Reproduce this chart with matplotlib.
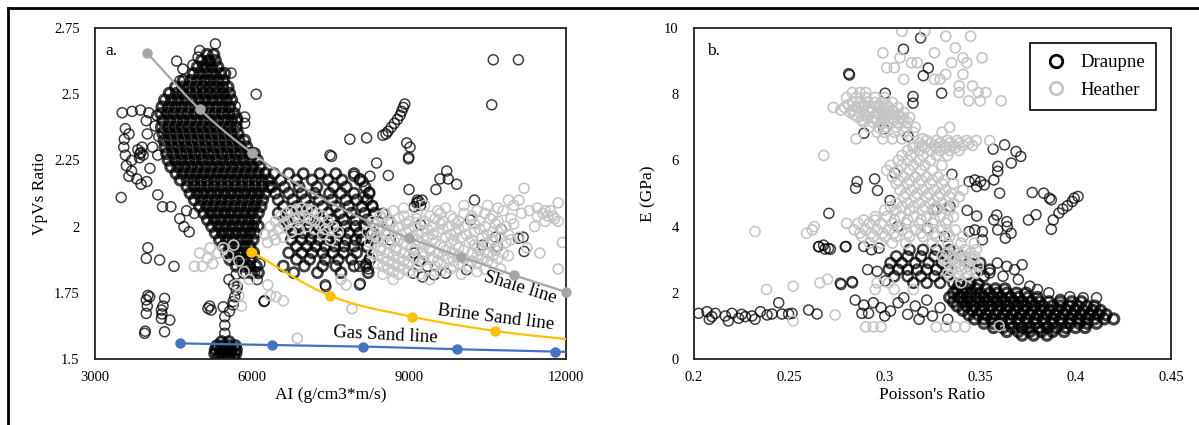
import numpy as np
import matplotlib
matplotlib.use("Agg")
import matplotlib.pyplot as plt
from matplotlib.lines import Line2D

plt.rcParams["font.family"] = ["Liberation Serif", "DejaVu Serif"]

# ---------------- panel a: AI vs VpVs ----------------
# dense Draupne cloud, rows of (VpVs, [AI ...])
draupne_a_core = [
    (2.650, [5140, 5270]),
    (2.627, [5040, 5185, 5300]),
    (2.603, [4960, 5095, 5225, 5345]),
    (2.578, [4880, 5005, 5135, 5255, 5390, 5480]),
    (2.552, [4690, 4835, 4955, 5095, 5210, 5345, 5460]),
    (2.527, [4540, 4675, 4795, 4935, 5060, 5185, 5305, 5435, 5540]),
    (2.503, [4420, 4555, 4680, 4815, 4940, 5075, 5200, 5325, 5450, 5570]),
    (2.478, [4330, 4465, 4590, 4725, 4850, 4985, 5110, 5245, 5370, 5505, 5610]),
    (2.452, [4280, 4405, 4535, 4660, 4795, 4920, 5055, 5180, 5315, 5440, 5575]),
    (2.427, [4260, 4385, 4510, 4645, 4770, 4905, 5030, 5165, 5290, 5425, 5550, 5660]),
    (2.401, [4300, 4430, 4565, 4690, 4825, 4950, 5085, 5210, 5345, 5470, 5605, 5710]),
    (2.376, [4270, 4405, 4530, 4665, 4790, 4925, 5050, 5185, 5310, 5445, 5570, 5700]),
    (2.352, [4300, 4435, 4560, 4695, 4820, 4955, 5080, 5215, 5340, 5475, 5600, 5730]),
    (2.326, [4320, 4450, 4585, 4710, 4845, 4970, 5105, 5230, 5365, 5490, 5625, 5750, 5860]),
    (2.301, [4340, 4475, 4600, 4735, 4860, 4995, 5120, 5255, 5380, 5515, 5640, 5775, 5900]),
    (2.276, [4370, 4495, 4640, 4755, 4900, 5015, 5160, 5270, 5420, 5535, 5680, 5790, 5940, 6045]),
    (2.251, [4400, 4535, 4660, 4795, 4920, 5055, 5180, 5315, 5440, 5575, 5700, 5835, 5960, 6100]),
    (2.226, [4450, 4585, 4710, 4845, 4970, 5105, 5230, 5365, 5490, 5625, 5750, 5885, 6010, 6150]),
    (2.201, [4550, 4680, 4815, 4940, 5075, 5200, 5335, 5460, 5595, 5720, 5855, 5980, 6115, 6250]),
    (2.176, [4630, 4765, 4890, 5025, 5150, 5285, 5410, 5545, 5670, 5805, 5930, 6065, 6190, 6320]),
    (2.151, [4760, 4895, 5020, 5155, 5280, 5415, 5540, 5675, 5800, 5935, 6060, 6195, 6330]),
    (2.126, [4820, 4955, 5080, 5215, 5340, 5475, 5600, 5735, 5860, 5995, 6120, 6250]),
    (2.101, [4900, 5035, 5160, 5295, 5420, 5555, 5680, 5815, 5940, 6075, 6200]),
    (2.076, [5000, 5135, 5260, 5395, 5520, 5655, 5780, 5915, 6040, 6170]),
    (2.051, [5080, 5215, 5340, 5475, 5600, 5735, 5860, 5995, 6120]),
    (2.026, [5150, 5285, 5410, 5545, 5670, 5805, 5930, 6060]),
    (2.001, [5230, 5365, 5490, 5625, 5750, 5885, 6010, 6120]),
    (1.976, [5300, 5435, 5560, 5695, 5820, 5955, 6060]),
    (1.951, [5380, 5515, 5640, 5775, 5900, 6020]),
    (1.926, [5450, 5585, 5710, 5845, 5960]),
    (1.901, [5520, 5655, 5780, 5915, 6030]),
    (1.876, [5580, 5715, 5840, 5960]),
    (1.851, [5700, 5835, 5950, 6080]),
    (1.826, [5850, 5985, 6120]),
]

# second Draupne cloud around AI 6500-8300
draupne_a_mid = [
    (2.200, [6420, 6700, 6980, 7300, 7600, 7950]),
    (2.176, [6550, 6850, 7150, 7450, 7720, 8060]),
    (2.150, [6380, 6620, 6900, 7240, 7560, 7800, 8160]),
    (2.126, [6450, 6700, 6950, 7200, 7480, 7700, 7950, 8240]),
    (2.101, [6500, 6780, 7020, 7280, 7530, 7790, 8000, 8200]),
    (2.076, [6600, 6850, 7100, 7350, 7600, 7850, 8100, 8300]),
    (2.051, [6500, 6720, 6950, 7200, 7450, 7680, 7900, 8150, 8350]),
    (2.026, [6620, 6850, 7080, 7300, 7520, 7750, 7980, 8200]),
    (2.001, [6700, 6900, 7080, 7250, 7420, 7600, 7780, 7980, 8150]),
    (1.976, [6800, 6980, 7150, 7320, 7500, 7680, 7850, 8050, 8300]),
    (1.951, [6750, 6950, 7120, 7280, 7450, 7620, 7800, 7980, 8100]),
    (1.926, [6850, 7050, 7220, 7400, 7580, 7760, 7950, 8200]),
    (1.901, [6700, 6950, 7150, 7350, 7550, 7750, 8000]),
    (1.876, [6850, 7100, 7400, 7650, 7900, 8250]),
    (1.851, [6600, 7000, 7350, 7600, 7950, 8180]),
    (1.826, [6800, 7250, 7700, 8220]),
]

# bottom Draupne cluster near VpVs 1.5
draupne_a_low = [
    (1.565, [5420, 5560]),
    (1.550, [5330, 5450, 5570, 5680]),
    (1.535, [5300, 5400, 5500, 5600, 5700]),
    (1.520, [5290, 5390, 5490, 5590, 5690]),
    (1.505, [5350, 5450, 5550, 5650]),
]

# scattered Draupne points (AI, VpVs)
draupne_a_sparse = [
    (5300, 2.69), (5000, 2.665), (4970, 2.64), (5160, 2.625), (4560, 2.625),
    (4680, 2.595), (4870, 2.61), (4620, 2.55), (5600, 2.58), (5560, 2.45),
    (6080, 2.50), (5680, 2.454), (5860, 2.414), (5860, 2.39), (5720, 2.41),
    (3520, 2.43), (3710, 2.435), (3870, 2.44), (4030, 2.43), (3580, 2.37),
    (3560, 2.33), (3550, 2.30), (3580, 2.27), (3650, 2.35), (3700, 2.25),
    (3880, 2.28), (3820, 2.29), (3920, 2.27), (3850, 2.26), (3900, 2.30),
    (3860, 2.275), (3700, 2.21), (3800, 2.18), (3880, 2.16), (3990, 2.17),
    (4050, 2.22), (4100, 2.30), (4150, 2.38), (4180, 2.42), (3650, 2.19),
    (3600, 2.23), (4000, 2.35), (3980, 2.40), (4200, 2.27), (4220, 2.34),
    (3500, 2.11), (4200, 2.12), (4290, 2.075), (4450, 2.075), (4620, 2.03),
    (4700, 2.00), (4800, 1.98), (4900, 2.05), (4750, 2.06), (4010, 1.92),
    (3980, 1.88), (4235, 1.874), (4510, 1.85), (3980, 1.723), (4045, 1.735),
    (4330, 1.729), (3980, 1.672), (4270, 1.685), (4270, 1.653), (4430, 1.647),
    (3950, 1.597), (3960, 1.605), (4330, 1.603), (4000, 1.70), (4010, 1.74),
    (4280, 1.67), (4300, 1.70), (5160, 1.691), (5220, 1.685), (5190, 1.70),
    (5450, 1.697), (5640, 1.704), (5480, 1.66), (5480, 1.628), (5480, 1.597),
    (5670, 1.735), (5700, 1.76), (5560, 1.80), (5650, 1.78), (5700, 1.82),
    (5570, 1.68), (5640, 1.717), (5720, 1.773), (6240, 1.72), (6230, 1.717),
    (5950, 1.85), (6050, 1.83), (6150, 1.86), (6100, 1.80),
    (7870, 2.33), (8190, 2.335), (7490, 2.27), (7520, 2.265), (8956, 2.316),
    (9020, 2.30), (8990, 2.256), (8995, 2.262), (8500, 2.345), (8560, 2.35),
    (8600, 2.36), (8660, 2.375), (8720, 2.39), (8780, 2.405), (8830, 2.42),
    (8860, 2.435), (8890, 2.45), (8920, 2.463), (8380, 2.24), (8255, 2.19),
    (8605, 2.193), (8070, 2.18), (8120, 2.17), (9720, 2.21), (9590, 2.18),
    (9750, 2.18), (9910, 2.16), (9000, 2.14), (9190, 2.095), (9150, 2.09),
    (9220, 2.08), (9100, 2.075), (9160, 2.10), (9250, 2.10), (9515, 2.14),
    (10250, 2.10), (10610, 2.63), (11090, 2.63), (10580, 2.46), (10760, 1.99),
    (11090, 1.956), (11180, 1.96), (11200, 1.906), (10690, 1.925), (9220, 2.007),
    (10170, 2.025), (9080, 1.824), (9260, 1.81), (9480, 1.818), (9700, 1.824),
    (10100, 1.837), (8350, 1.956), (8640, 1.95), (8420, 1.99), (8055, 1.85),
    (8055, 1.78), (8070, 1.785), (7400, 1.78), (7410, 1.774), (8500, 2.05),
    (8300, 2.08), (8600, 2.02), (8100, 1.95), (8200, 1.92), (8250, 1.88),
    (8180, 1.86), (8220, 1.84), (9100, 1.90), (9200, 1.87), (9350, 1.85),
    (10400, 1.93), (10650, 1.96), (7950, 2.19), (8240, 2.13), (8130, 2.11),
]

# Heather points (AI, VpVs)
heather_a_arc = [
    (6250, 1.97), (6350, 2.00), (6450, 2.02), (6550, 2.04), (6650, 2.05),
    (6750, 2.06), (6850, 2.065), (6950, 2.07), (7050, 2.065), (7150, 2.06),
    (7250, 2.05), (7350, 2.04), (7450, 2.02), (7550, 2.00), (7650, 1.98),
    (6400, 1.97), (6500, 1.99), (6600, 2.01), (6700, 2.02), (6800, 2.03),
    (6900, 2.035), (7000, 2.04), (7100, 2.03), (7200, 2.02), (7300, 2.005),
    (7400, 1.99), (6300, 1.94), (6450, 1.95), (6600, 1.96), (6750, 1.98),
    (6900, 1.99), (7050, 2.00), (7200, 1.99), (7350, 1.97), (7500, 1.95),
    (4900, 1.85), (5050, 1.85), (5150, 1.88), (5250, 1.86), (5350, 1.90),
    (5450, 1.92), (5550, 1.89), (5000, 1.90), (5200, 1.92), (5650, 1.93),
    (5750, 1.87), (5850, 1.83), (5950, 1.80), (5700, 1.78), (5750, 1.74),
    (5800, 1.70), (6460, 1.735), (6300, 1.78), (6350, 1.74), (6600, 1.72),
    (7910, 1.69), (6865, 1.578), (7700, 1.80), (7800, 1.78),
    (11200, 2.145), (11850, 2.09), (11560, 2.05), (11650, 2.04), (11700, 2.06),
    (11780, 2.03), (11930, 1.94), (11850, 1.84), (10900, 2.10), (11100, 2.10),
    (11400, 2.00), (11250, 1.92), (11500, 1.90),
]
heather_a_band = [
    (2.08, [9300, 10050, 10500, 11000]),
    (2.07, [8900, 9700, 10700, 11450]),
    (2.06, [8700, 9550, 10300, 10800, 11300, 11600]),
    (2.05, [8550, 9150, 9600, 10050, 10450, 11150]),
    (2.04, [8450, 8900, 9400, 9800, 10200, 10600, 11450, 11750]),
    (2.03, [8500, 8800, 9150, 9500, 9850, 10200, 10550, 10950]),
    (2.02, [8300, 8650, 9000, 9300, 9650, 9950, 10350, 10700, 11600, 11850]),
    (2.01, [8350, 8650, 8950, 9300, 9600, 9900, 10250, 10650, 11000]),
    (2.00, [8500, 8800, 9100, 9450, 9750, 10050, 10450, 10850]),
    (1.99, [8400, 8700, 9000, 9350, 9650, 9950, 10350, 10750]),
    (1.98, [8200, 8600, 8950, 9250, 9550, 9900, 10250, 10600]),
    (1.97, [8300, 8550, 8850, 9150, 9450, 9800, 10100, 10500, 10900]),
    (1.96, [8400, 8750, 9050, 9350, 9700, 10000, 10400, 10750, 11100]),
    (1.95, [8500, 8800, 9150, 9450, 9850, 10200, 10600, 10950]),
    (1.94, [8250, 8600, 8900, 9200, 9500, 9800, 10150, 10500, 10850]),
    (1.93, [8350, 8650, 8950, 9300, 9600, 9900, 10250, 10550]),
    (1.92, [8450, 8750, 9050, 9400, 9650, 9950, 10300, 10650]),
    (1.91, [8450, 8750, 9100, 9400, 9700, 10050, 10350, 10650]),
    (1.90, [8300, 8600, 8900, 9250, 9550, 9850, 10200, 10500, 10800]),
    (1.89, [8400, 8700, 9000, 9300, 9650, 9950, 10300, 10600, 10900]),
    (1.88, [8500, 8800, 9100, 9450, 9750, 10050, 10400, 10700]),
    (1.87, [8600, 8900, 9250, 9550, 9850, 10200, 10500]),
    (1.86, [8400, 8700, 9000, 9600, 9950, 10300, 10600]),
    (1.85, [8500, 8800, 9150, 9500, 9850, 10150]),
    (1.84, [8600, 8900, 9350, 9800, 10450, 10750]),
    (1.83, [8700, 9000, 9600, 10300]),
    (1.82, [8500, 8800, 9200, 10000]),
    (1.80, [8700, 9400]),
]

# rock physics lines
shale_ai = [4000, 5000, 6000, 7000, 8000, 9000, 10000, 11000, 12000]
shale_vpvs = [2.655, 2.443, 2.278, 2.145, 2.04, 1.957, 1.886, 1.817, 1.753]
brine_ai = [5987, 7490, 9050, 10643, 12000]
brine_vpvs = [1.905, 1.739, 1.660, 1.606, 1.575]
gas_ai = [4618, 6376, 8128, 9911, 11790, 12000]
gas_vpvs = [1.559, 1.553, 1.547, 1.537, 1.528, 1.527]

# ---------------- panel b: Poisson's ratio vs E ----------------
draupne_b_core = [
    (2.25, [0.339, 0.344, 0.349]),
    (2.12, [0.338, 0.343, 0.348, 0.353, 0.358, 0.363]),
    (1.99, [0.336, 0.341, 0.345, 0.350, 0.355, 0.359, 0.364, 0.369, 0.374]),
    (1.86, [0.334, 0.339, 0.343, 0.348, 0.352, 0.357, 0.361, 0.366, 0.370, 0.375, 0.380]),
    (1.73, [0.336, 0.341, 0.345, 0.350, 0.354, 0.359, 0.363, 0.368, 0.372, 0.377, 0.381,
            0.386, 0.392, 0.398, 0.403]),
    (1.60, [0.338, 0.343, 0.347, 0.352, 0.356, 0.361, 0.365, 0.370, 0.374, 0.379, 0.383,
            0.388, 0.392, 0.397, 0.401, 0.406, 0.410]),
    (1.47, [0.341, 0.346, 0.350, 0.355, 0.359, 0.364, 0.368, 0.373, 0.377, 0.382, 0.386,
            0.391, 0.395, 0.400, 0.404, 0.409, 0.413]),
    (1.34, [0.344, 0.349, 0.353, 0.358, 0.362, 0.367, 0.371, 0.376, 0.380, 0.385, 0.389,
            0.394, 0.398, 0.403, 0.407, 0.412, 0.416]),
    (1.21, [0.347, 0.352, 0.356, 0.361, 0.365, 0.370, 0.374, 0.379, 0.383, 0.388, 0.392,
            0.397, 0.401, 0.406, 0.410, 0.415, 0.420]),
    (1.08, [0.352, 0.357, 0.361, 0.366, 0.370, 0.375, 0.379, 0.384, 0.388, 0.393, 0.397,
            0.402, 0.406, 0.411]),
    (0.95, [0.357, 0.362, 0.367, 0.372, 0.376, 0.381, 0.385, 0.390, 0.395, 0.400, 0.405]),
    (0.83, [0.364, 0.370, 0.376, 0.382, 0.388, 0.394]),
    (0.72, [0.372, 0.378, 0.385]),
]
draupne_b_ring = [
    (3.30, [0.313, 0.320, 0.327, 0.334]),
    (3.10, [0.306, 0.312, 0.319, 0.326, 0.333, 0.340]),
    (2.90, [0.303, 0.309, 0.316, 0.323, 0.330, 0.345, 0.350]),
    (2.70, [0.302, 0.307, 0.312, 0.317, 0.322, 0.327, 0.333, 0.350, 0.355]),
    (2.50, [0.305, 0.312, 0.319, 0.326, 0.333, 0.352]),
    (2.30, [0.315, 0.322, 0.329, 0.336, 0.345]),
]
draupne_b_sparse = [
    (0.2811, 8.62), (0.2815, 8.58), (0.3002, 8.03), (0.3098, 9.36), (0.3188, 9.70),
    (0.3202, 8.56), (0.3228, 8.79), (0.3148, 7.93), (0.3148, 7.73), (0.3298, 8.03),
    (0.2891, 6.82), (0.3122, 6.72), (0.2996, 6.95), (0.3352, 5.58), (0.3052, 5.62),
    (0.2855, 5.36), (0.2847, 5.16), (0.2947, 5.44), (0.2962, 5.09), (0.3028, 4.79),
    (0.2707, 4.40), (0.2655, 3.40), (0.2687, 3.32), (0.2715, 3.32), (0.2797, 3.40),
    (0.2771, 2.25), (0.2831, 2.30), (0.3002, 2.36), (0.3442, 5.36), (0.3472, 5.41),
    (0.3502, 5.36), (0.3522, 5.26), (0.3482, 5.21), (0.3572, 5.41), (0.3568, 6.34),
    (0.3628, 6.47), (0.3688, 6.27), (0.3713, 6.12), (0.3663, 5.92), (0.3592, 5.82),
    (0.3592, 5.67), (0.3602, 5.01), (0.3773, 5.03), (0.3833, 5.01), (0.3863, 4.86),
    (0.3873, 4.81), (0.3993, 4.86), (0.4013, 4.91), (0.3883, 4.20), (0.3913, 4.41),
    (0.3933, 4.53), (0.3957, 4.63), (0.3983, 4.76), (0.3793, 4.36), (0.3753, 4.20),
    (0.3873, 3.92), (0.3432, 4.49), (0.3482, 4.32), (0.3512, 3.85), (0.3572, 4.20),
    (0.3592, 3.90), (0.3642, 4.00), (0.3662, 3.80), (0.3632, 3.65), (0.3442, 3.85),
    (0.3472, 3.90), (0.3512, 3.60), (0.3342, 4.61), (0.3272, 4.51), (0.3222, 3.95),
    (0.3312, 3.70), (0.3068, 4.00), (0.3255, 4.50), (0.3587, 4.35), (0.3640, 4.15),
    (0.2024, 1.38), (0.2068, 1.43), (0.2094, 1.28), (0.2112, 1.38), (0.2164, 1.30),
    (0.2199, 1.38), (0.2234, 1.23), (0.2269, 1.28), (0.2304, 1.30), (0.2348, 1.43),
    (0.2383, 1.33), (0.2409, 1.36), (0.2444, 1.70), (0.2461, 1.36), (0.2496, 1.36),
    (0.2514, 1.38), (0.2601, 1.48), (0.2645, 1.36), (0.2080, 1.20), (0.2180, 1.15),
    (0.2250, 1.35), (0.2320, 1.20), (0.2653, 3.39), (0.2679, 3.44), (0.2705, 3.34),
    (0.2793, 3.39), (0.2767, 2.29), (0.2828, 2.34), (0.2845, 1.78), (0.2890, 1.63),
    (0.2915, 1.38), (0.2880, 1.38), (0.289, 3.40), (0.293, 3.30), (0.297, 3.35),
    (0.291, 2.70), (0.296, 2.65), (0.294, 1.70), (0.298, 1.55), (0.303, 1.45),
    (0.307, 1.70), (0.312, 1.35), (0.316, 1.60), (0.320, 1.42), (0.325, 1.30),
    (0.329, 1.55), (0.333, 1.20), (0.300, 1.30), (0.310, 1.85), (0.318, 1.20),
    (0.322, 1.78), (0.359, 2.90), (0.364, 2.80), (0.368, 2.70), (0.372, 2.85),
    (0.355, 2.60), (0.362, 2.50), (0.370, 2.40), (0.376, 2.20), (0.380, 2.10),
    (0.386, 2.00), (0.397, 1.88), (0.404, 1.85), (0.411, 1.85), (0.392, 1.80),
]
heather_b_rows = [
    (9.90, [0.309, 0.321]),
    (9.75, [0.332, 0.345]),
    (9.40, [0.337]),
    (9.25, [0.299, 0.326]),
    (9.10, [0.308, 0.341, 0.351]),
    (8.95, [0.314, 0.317, 0.335, 0.343]),
    (8.80, [0.301, 0.305]),
    (8.60, [0.332, 0.341]),
    (8.45, [0.310, 0.326, 0.329]),
    (8.25, [0.339, 0.346]),
    (8.05, [0.283, 0.287, 0.290, 0.339, 0.349, 0.353]),
    (7.90, [0.280, 0.285, 0.290, 0.295, 0.300]),
    (7.80, [0.344, 0.350, 0.361]),
    (7.75, [0.283, 0.287, 0.291, 0.295, 0.299, 0.304]),
    (7.68, [0.281, 0.289, 0.297, 0.301]),
    (7.60, [0.273, 0.279, 0.285, 0.289, 0.293, 0.297, 0.302, 0.307]),
    (7.52, [0.277, 0.283, 0.291, 0.299, 0.304]),
    (7.45, [0.282, 0.287, 0.292, 0.296, 0.300, 0.305, 0.310]),
    (7.38, [0.284, 0.289, 0.297, 0.302, 0.307]),
    (7.30, [0.286, 0.291, 0.295, 0.299, 0.304, 0.309, 0.313]),
    (7.22, [0.288, 0.296, 0.300, 0.305, 0.310]),
    (7.15, [0.289, 0.294, 0.298, 0.302, 0.307, 0.312]),
    (7.00, [0.292, 0.297, 0.301, 0.306, 0.311, 0.316, 0.334]),
    (6.85, [0.296, 0.300, 0.305, 0.310, 0.315, 0.330]),
    (6.65, [0.285, 0.299, 0.304, 0.309, 0.320]),
    (6.60, [0.322, 0.327, 0.333, 0.338, 0.343, 0.348, 0.355]),
    (6.52, [0.318, 0.324, 0.329, 0.334, 0.339, 0.344]),
    (6.45, [0.315, 0.320, 0.326, 0.331, 0.336, 0.341, 0.346]),
    (6.38, [0.315, 0.321, 0.327, 0.332, 0.337]),
    (6.30, [0.312, 0.318, 0.324, 0.329, 0.334, 0.339]),
    (6.15, [0.268, 0.309, 0.314, 0.320, 0.327, 0.333]),
    (6.00, [0.307, 0.312, 0.318, 0.324]),
    (5.85, [0.303, 0.309, 0.315, 0.321, 0.330]),
    (5.70, [0.301, 0.307, 0.313, 0.319, 0.325]),
    (5.50, [0.304, 0.310, 0.316, 0.322, 0.328]),
    (5.40, [0.307, 0.313, 0.319, 0.325, 0.331]),
    (5.30, [0.306, 0.312, 0.318, 0.324, 0.330, 0.336]),
    (5.10, [0.308, 0.314, 0.320, 0.326, 0.332, 0.341]),
    (5.00, [0.311, 0.317, 0.323, 0.329, 0.335]),
    (4.90, [0.310, 0.316, 0.322, 0.328, 0.334, 0.339]),
    (4.70, [0.306, 0.312, 0.318, 0.324, 0.330, 0.336]),
    (4.60, [0.303, 0.309, 0.315, 0.321, 0.327, 0.333]),
    (4.50, [0.300, 0.306, 0.313, 0.320, 0.327, 0.334]),
    (4.30, [0.295, 0.301, 0.308, 0.315, 0.322, 0.329, 0.336]),
    (4.20, [0.289, 0.295, 0.305, 0.312, 0.319, 0.326, 0.333]),
    (4.10, [0.280, 0.286, 0.292, 0.298, 0.304, 0.311, 0.318, 0.325, 0.332]),
    (3.90, [0.262, 0.284, 0.290, 0.296, 0.302, 0.309, 0.316, 0.323, 0.330, 0.337]),
    (3.80, [0.287, 0.293, 0.299, 0.305, 0.312, 0.319, 0.326, 0.333]),
    (3.70, [0.288, 0.294, 0.300, 0.306, 0.313, 0.320, 0.327, 0.334, 0.341]),
    (3.50, [0.292, 0.298, 0.304, 0.311, 0.325, 0.333, 0.340, 0.347]),
    (3.30, [0.336, 0.342, 0.348]),
    (3.20, [0.333, 0.339, 0.345]),
    (3.10, [0.330, 0.336, 0.342, 0.347]),
    (3.00, [0.331, 0.336, 0.341, 0.346]),
    (2.90, [0.333, 0.338, 0.343]),
    (2.80, [0.334, 0.339, 0.344, 0.349]),
    (2.70, [0.335, 0.340, 0.345]),
    (2.60, [0.333, 0.338, 0.343, 0.348]),
    (2.50, [0.334, 0.339, 0.344]),
    (2.30, [0.296, 0.302, 0.340]),
    (2.10, [0.295, 0.305, 0.315]),
    (0.97, [0.290, 0.294, 0.298, 0.327, 0.332, 0.337, 0.342]),
]
heather_b_sparse = [
    (0.232, 3.85), (0.238, 2.10), (0.252, 2.20), (0.259, 3.80), (0.263, 4.00),
    (0.266, 2.30), (0.270, 2.41), (0.274, 1.33), (0.252, 1.15), (0.360, 1.00),
]

x_ticks_a = [3000, 6000, 9000, 12000]
y_ticks_a = [1.5, 1.75, 2.0, 2.25, 2.5, 2.75]
y_labels_a = ["1.5", "1.75", "2", "2.25", "2.5", "2.75"]
x_ticks_b = [0.2, 0.25, 0.3, 0.35, 0.4, 0.45]
y_ticks_b = [0, 2, 4, 6, 8, 10]


def rows_to_xy(rows):
    x = [v for _, xs in rows for v in xs]
    y = [r for r, xs in rows for _ in xs]
    return x, y


def pairs_to_xy(pairs):
    return [p[0] for p in pairs], [p[1] for p in pairs]


def smooth(xs, ys, n=30):
    # Catmull-Rom curve through the points, like Excel's smoothed line
    pts = np.column_stack([xs, ys]).astype(float)
    p = np.vstack([2 * pts[0] - pts[1], pts, 2 * pts[-1] - pts[-2]])
    t = np.linspace(0, 1, n)[:, None]
    segs = []
    for i in range(1, len(p) - 2):
        p0, p1, p2, p3 = p[i - 1], p[i], p[i + 1], p[i + 2]
        segs.append(0.5 * (2 * p1 + (-p0 + p2) * t
                           + (2 * p0 - 5 * p1 + 4 * p2 - p3) * t ** 2
                           + (-p0 + 3 * p1 - 3 * p2 + p3) * t ** 3))
    c = np.vstack(segs)
    return c[:, 0], c[:, 1]


DARK = (0, 0, 0, 0.75)
LIGHT = "#c4c4c4"
S = 52


def circles(ax, x, y, color, lw):
    ax.scatter(x, y, s=S, facecolors="none", edgecolors=[color], linewidths=lw)


fig = plt.figure(figsize=(11.99, 4.25), dpi=100)
ax1 = fig.add_axes([0.0792, 0.1553, 0.3929, 0.7788])
ax2 = fig.add_axes([0.5788, 0.1553, 0.3978, 0.7788])

# panel a
circles(ax1, *rows_to_xy(draupne_a_core), DARK, 2.3)
circles(ax1, *rows_to_xy(draupne_a_mid), DARK, 2.0)
circles(ax1, *rows_to_xy(draupne_a_low), DARK, 2.3)
circles(ax1, *pairs_to_xy(draupne_a_sparse), DARK, 1.1)
circles(ax1, *pairs_to_xy(heather_a_arc), LIGHT, 1.2)
circles(ax1, *rows_to_xy(heather_a_band), LIGHT, 1.1)

for xs, ys, col, marks in [
    (shale_ai, shale_vpvs, "#a6a6a6", [0, 1, 2, 5, 6, 7, 8]),
    (brine_ai, brine_vpvs, "#ffc000", [0, 1, 2, 3]),
    (gas_ai, gas_vpvs, "#4472c4", [0, 1, 2, 3, 4]),
]:
    sx, sy = smooth(xs, ys)
    ax1.plot(sx, sy, color=col, lw=1.6, zorder=5)
    ax1.plot([xs[i] for i in marks], [ys[i] for i in marks], "o", color=col,
             ms=6.5, zorder=6, clip_on=False)

ax1.set_xlim(3000, 12000)
ax1.set_ylim(1.5, 2.75)
ax1.set_xticks(x_ticks_a)
ax1.set_yticks(y_ticks_a)
ax1.set_yticklabels(y_labels_a)
ax1.set_xlabel("AI (g/cm3*m/s)", fontsize=12.5)
ax1.set_ylabel("VpVs Ratio", fontsize=12.5)
ax1.xaxis.set_label_coords(0.5, -0.085)
ax1.yaxis.set_label_coords(-0.1, 0.5)
ax1.text(0.022, 0.955, "a.", transform=ax1.transAxes, fontsize=12.5, va="top")
ax1.text(11120, 1.768, "Shale line", fontsize=13.5, rotation=-17, ha="center", va="center")
ax1.text(10660, 1.655, "Brine Sand line", fontsize=13.5, rotation=-7, ha="center", va="center")
ax1.text(8550, 1.588, "Gas Sand line", fontsize=13.5, rotation=-3, ha="center", va="center")

# panel b
circles(ax2, *rows_to_xy(draupne_b_core), DARK, 2.3)
circles(ax2, *rows_to_xy(draupne_b_ring), DARK, 1.8)
circles(ax2, *pairs_to_xy(draupne_b_sparse), DARK, 1.1)
circles(ax2, *rows_to_xy(heather_b_rows), LIGHT, 1.2)
circles(ax2, *pairs_to_xy(heather_b_sparse), LIGHT, 1.1)

ax2.set_xlim(0.2, 0.45)
ax2.set_ylim(0, 10)
ax2.set_xticks(x_ticks_b)
ax2.set_xticklabels(["0.2", "0.25", "0.3", "0.35", "0.4", "0.45"])
ax2.set_yticks(y_ticks_b)
ax2.set_xlabel("Poisson's Ratio", fontsize=12.5)
ax2.set_ylabel("E (GPa)", fontsize=12.5)
ax2.xaxis.set_label_coords(0.5, -0.085)
ax2.yaxis.set_label_coords(-0.078, 0.5)
ax2.text(0.028, 0.955, "b.", transform=ax2.transAxes, fontsize=12.5, va="top")

handles = [
    Line2D([], [], ls="none", marker="o", ms=9, mfc="none", mec="black", mew=2),
    Line2D([], [], ls="none", marker="o", ms=9, mfc="none", mec=LIGHT, mew=2),
]
leg = ax2.legend(handles, ["Draupne", "Heather"], loc="upper right",
                 bbox_to_anchor=(0.969, 0.955), borderaxespad=0, fancybox=False,
                 framealpha=1, edgecolor="black", fontsize=13.5, handletextpad=0.5,
                 borderpad=0.6, labelspacing=0.55, handlelength=1.6)
leg.get_frame().set_linewidth(1.2)

for ax in (ax1, ax2):
    ax.tick_params(length=0, labelsize=10.5)
    ax.tick_params(axis="y", pad=11)
    ax.tick_params(axis="x", pad=9)
    for sp in ax.spines.values():
        sp.set_linewidth(1.3)
        sp.set_color("#222222")

# outer frame of the figure (top and left edges visible)
fig.add_artist(Line2D([0.0063, 1.0], [0.981, 0.981], color="black", lw=2))
fig.add_artist(Line2D([0.0063, 0.0063], [0.0, 0.981], color="black", lw=2))

fig.savefig("out.png", dpi=100)
